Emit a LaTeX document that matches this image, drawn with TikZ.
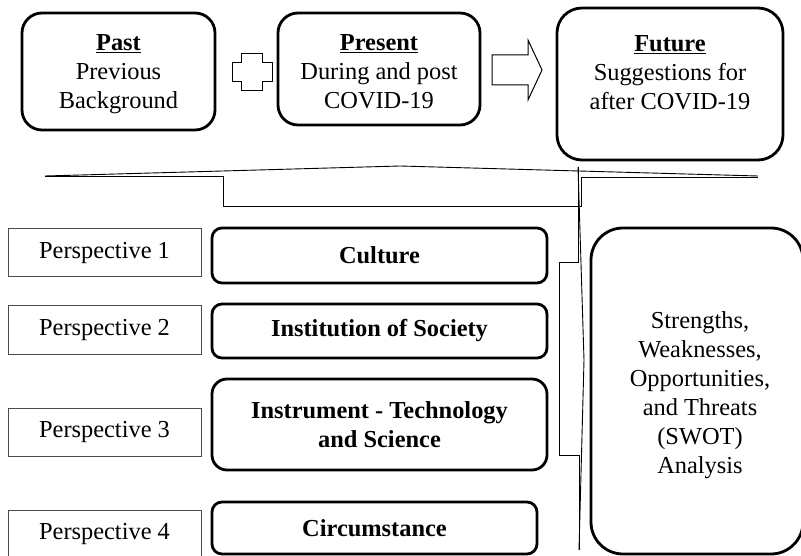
\documentclass[tikz,border=0pt]{standalone}
\usepackage{fontspec}
\setmainfont{Liberation Serif}
\usetikzlibrary{positioning}

\tikzset{
  stagebox/.style={draw, line width=2.8pt, inner sep=0pt},
  stagetext/.style={align=center, inner sep=0pt},
  perspbox/.style={draw=black!70, line width=1pt, minimum width=193pt, minimum height=48pt, inner sep=0pt},
  topicbox/.style={draw, line width=2.8pt, rounded corners=10pt, align=center, inner sep=0pt, font=\fontsize{24.4}{29}\selectfont\bfseries},
  bracketline/.style={line width=0.9pt}
}

\begin{document}
\begin{tikzpicture}[x=1pt, y=-1pt, font=\fontsize{24.4}{29}\selectfont]
  \useasboundingbox (0,0) rectangle (801,556);

  % Time line boxes
  \node[stagebox, rounded corners=20pt, minimum width=193pt, minimum height=117pt] (past) at (118.5,71.5) {};
  \node[stagetext] (pasttext) at (118.5,74)
    {\underline{\textbf{Past}}\\Previous\\Background};
  \node[stagebox, rounded corners=20pt, minimum width=202pt, minimum height=112pt] (present) at (379,69) {};
  \node[stagetext] (presenttext) at (379,71.5)
    {\underline{\textbf{Present}}\\During and post\\COVID-19};
  \node[stagebox, rounded corners=25pt, minimum width=226pt, minimum height=152pt] (future) at (670,84) {};
  \node[stagetext] (futuretext) at (670,72.5)
    {\underline{\textbf{Future}}\\Suggestions for\\after COVID-19};

  % plus and arrow between them
  \draw[line width=1pt] (241,54) -- (262,54) -- (262,63) -- (272,63) -- (272,82) -- (262,82)
    -- (262,91) -- (241,91) -- (241,82) -- (232,82) -- (232,63) -- (241,63) -- cycle;
  \draw[line width=1pt] (492,55) -- (528,55) -- (528,40) -- (542,70) -- (528,100) -- (528,85)
    -- (492,85) -- cycle;

  % horizontal brace
  \draw[bracketline] (45,176) -- (400,166) -- (758,176);
  \draw[bracketline] (45,176) -- (223,176) -- (223,206) -- (581,206) -- (581,177) -- (758,177);

  % vertical brace
  \draw[bracketline] (578,167) -- (584,360) -- (579,550);
  \draw[bracketline] (578,167) -- (578,262) -- (559,262) -- (559,455) -- (579,455) -- (579,550);

  % perspectives
  \foreach \n/\y in {1/253, 2/330, 3/432, 4/534} {
    \node[perspbox] (persp\n) at (104.5,\y) {Perspective \n};
  }

  \node[topicbox, minimum width=335pt, minimum height=55pt] (culture) at (379.5,255.5) {Culture};
  \node[topicbox, minimum width=335pt, minimum height=54pt] (institution) at (379.5,331) {Institution of Society};
  \node[topicbox, rounded corners=15pt, minimum width=335pt, minimum height=91pt] (instrument) at (379.5,424.5)
    {Instrument - Technology\\and Science};
  \node[topicbox, minimum width=325pt, minimum height=52pt] (circumstance) at (374.5,528) {Circumstance};

  % SWOT
  \node[stagebox, rounded corners=32pt, minimum width=212pt, minimum height=326pt] (swot) at (697,391) {};
  \node[stagetext] (swottext) at (700,395)
    {Strengths,\\Weaknesses,\\Opportunities,\\and Threats\\(SWOT)\\Analysis};

\end{tikzpicture}
\end{document}
